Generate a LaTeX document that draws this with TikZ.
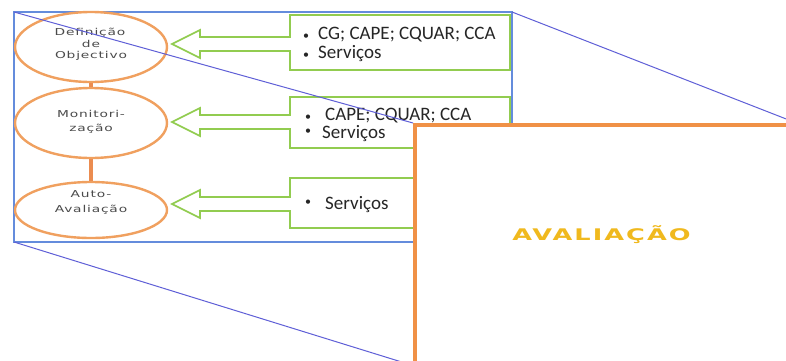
\documentclass[tikz,border=0pt]{standalone}
\usepackage{fontspec}
\setmainfont{Carlito}
\newfontfamily\elfont[LetterSpace=6]{DejaVu Sans}
\newfontfamily\avfont[LetterSpace=8]{DejaVu Sans Bold}
\usetikzlibrary{shapes.geometric}
\definecolor{rectblue}{RGB}{100,140,220}
\definecolor{diagblue}{RGB}{95,95,215}
\definecolor{elor}{RGB}{240,160,95}
\definecolor{linkor}{RGB}{235,140,80}
\definecolor{boxgreen}{RGB}{146,204,80}
\definecolor{avor}{RGB}{240,145,70}
\definecolor{avtext}{RGB}{240,185,30}
\definecolor{eltext}{RGB}{75,75,75}
\newcommand\mycallout[3]{%
  \draw[callout] (510,#1) -- (290,#1) -- (290,{#3-7}) -- (200,{#3-7}) -- (200,{#3-14})
    -- (172,#3) -- (200,{#3+14}) -- (200,{#3+7}) -- (290,{#3+7}) -- (290,#2) -- (510,#2) -- cycle;}
\newcommand\bul{\fontsize{12}{12}\selectfont\textbullet}
\begin{document}
\begin{tikzpicture}[x=1pt,y=-1pt,
  ell/.style={ellipse, draw=elor, line width=2.4pt, fill=white, minimum width=152pt, inner sep=0pt},
  eltxt/.style={font=\elfont\fontsize{9.5}{12}\selectfont, text=eltext, xscale=1.45, anchor=base, inner sep=0pt},
  link/.style={draw=linkor, line width=4pt},
  callout/.style={draw=boxgreen, line width=1.6pt, fill=white, line join=miter},
  btxt/.style={font=\fontsize{19}{22}\selectfont, anchor=base west, inner sep=0pt, text=black!85},
  diag/.style={draw=diagblue, line width=1pt},
  avbox/.style={draw=avor, line width=3.5pt, fill=white, anchor=north west, inner sep=0pt,
    minimum width=380pt, minimum height=239pt}]
\useasboundingbox (0,0) rectangle (786,360);
\clip (0,0) rectangle (786,360);
\fill[white] (0,0) rectangle (786,360);
% blue frame
\draw[rectblue, line width=1.5pt] (14,12) rectangle (512,242);
\coordinate (bTL) at (14,12);
\coordinate (bTR) at (512,12);
\coordinate (bBL) at (14,242);
% ellipses
\node[ell, minimum height=70pt] (e1) at (91,47) {};
\node[ell, minimum height=70pt] (e2) at (91,123) {};
\node[ell, minimum height=56pt] (e3) at (91,210) {};
\draw[link] (e1) -- (e2);
\draw[link] (e2) -- (e3);
\node[eltxt] (t1a) at (90,35) {Definição};
\node[eltxt] (t1b) at (91,47) {de};
\node[eltxt] (t1c) at (91,58) {Objectivo};
\node[eltxt] (t2a) at (91,117) {Monitori-};
\node[eltxt] (t2b) at (91,131) {zação};
\node[eltxt] (t3a) at (91,197) {Auto-};
\node[eltxt] (t3b) at (91,212) {Avaliação};
% callouts
\mycallout{15}{70}{44}
\mycallout{97}{148}{122}
\mycallout{178}{228}{204}
\node[btxt] (b1a) at (303,39) {\makebox[15pt][l]{\bul}CG; CAPE; CQUAR; CCA};
\node[btxt] (b1b) at (303,58) {\makebox[15pt][l]{\bul}Serviços};
\node[btxt] (b2a) at (305,120) {\makebox[20pt][l]{\bul}CAPE; CQUAR; CCA};
\node[btxt] (b2b) at (305,138) {\makebox[17pt][l]{\raisebox{4pt}{\bul}}Serviços};
\node[btxt] (b3a) at (305,209) {\makebox[20pt][l]{\raisebox{4pt}{\bul}}Serviços};
% orange box and zoom lines
\node[avbox] (av) at (413,123) {};
\draw[diag] (bTL) -- (av.north west);
\draw[diag] (bTR) -- (av.north east);
\draw[diag] (bBL) -- (av.south west);
\node[avbox] (av2) at (413,123) {};
\node[font=\avfont\fontsize{16}{20}\selectfont, text=avtext, xscale=1.6, anchor=base west, inner sep=0pt] (avt) at (512,240) {AVALIAÇÃO};
\end{tikzpicture}
\end{document}
